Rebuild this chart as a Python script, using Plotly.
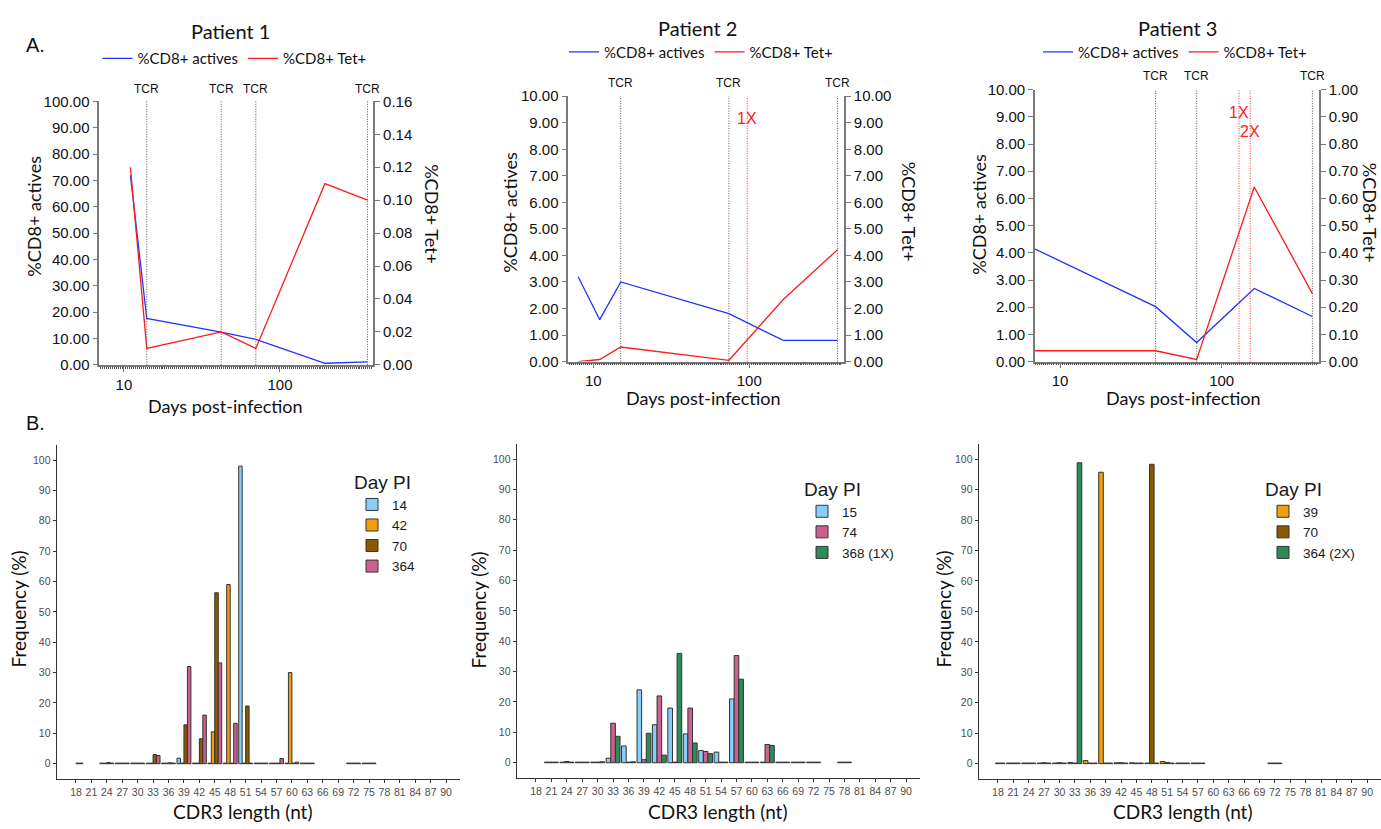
import numpy as np
import plotly.graph_objects as go

W, H = 1381, 829


def fx(p):
    return p / W


def fy(p):
    return 1 - p / H


HUM = "Lato"
ARIAL = "Liberation Sans"

# ---------------- Panel A data ----------------
legend_names = ["%CD8+ actives", "%CD8+ Tet+"]
patient_titles = ["Patient 1", "Patient 2", "Patient 3"]

p1_days = [11, 14, 42, 70, 194, 364]
p1_actives = [71.9, 17.6, 12.4, 9.7, 0.6, 1.1]
p1_tet = [0.120, 0.010, 0.020, 0.010, 0.110, 0.100]
p1_tcr_days = [14, 42, 70, 364]
p1_mark_days = []
p1_mark_labels = []

p2_days = [8, 11, 15, 74, 165, 368]
p2_actives = [3.20, 1.58, 3.00, 1.81, 0.80, 0.80]
p2_tet = [0.00, 0.08, 0.55, 0.05, 2.34, 4.22]
p2_tcr_days = [15, 74, 368]
p2_mark_days = [97]
p2_mark_labels = ["1X"]

p3_days = [7, 39, 70, 159, 364]
p3_actives = [4.14, 2.02, 0.70, 2.69, 1.66]
p3_tet = [0.040, 0.040, 0.008, 0.642, 0.250]
p3_tcr_days = [39, 70, 364]
p3_mark_days = [128, 150]
p3_mark_labels = ["1X", "2X"]

# ---------------- Panel B data ----------------
cdr3_lengths = list(range(18, 91, 3))
N = None
#            18  21   24   27   30   33   36   39    42   45    48    51   54   57   60   63   66  69  72   75   78  81 84 87 90
b1_d14 =   [N,  N,   .2,  .2,  .2,  .2,  .2,  1.8,  .2,  .2,   .2,   98,  .2,  .2,  .2,  .2,  N,  N,  .2,  .2,  N,  N, N, N, N]
b1_d42 =   [N,  N,   .2,  .2,  .2,  .2,  .2,  .2,   .2,  10.5, 59,   .2,  .2,  .2,  30,  .2,  N,  N,  .2,  .2,  N,  N, N, N, N]
b1_d70 =   [.2, N,   .4,  .2,  .2,  3.0, .3,  12.8, 8.2, 56.3, .2,   19,  .2,  .2,  .2,  .2,  N,  N,  .2,  .2,  N,  N, N, N, N]
b1_d364 =  [.2, N,   .2,  .2,  .2,  2.7, .2,  32,   16,  33.2, 13.3, .2,  .2,  1.7, 0.5, .2,  N,  N,  .2,  .2,  N,  N, N, N, N]

b2_d15 =   [N,  .2,  .2,  .2,  .2,  1.5, 5.5, 24,   12.5, 18,  9.5,  4.0, 3.5, 21,  .2,  .2,  .2, .2, .2,  N,   .2, N, N, N, N]
b2_d74 =   [N,  .2,  .4,  .2,  .2,  13,  .2,  1.0,  22,  .2,   18,   3.7, .2,  35.3, .2, 6.0, .2, .2, .2,  N,   .2, N, N, N, N]
b2_d368 =  [N,  .2,  .2,  .2,  .3,  8.7, .3,  9.7,  2.5, 36,   6.5,  3.0, .2,  27.5, .2, 5.7, .2, .2, .2,  N,   .2, N, N, N, N]

b3_d39 =   [N,  .2,  .2,  .2,  .2,  .4,  1.0, 95.7, .3,  .3,   .2,   .7,  .2,  .2,  N,   N,   N,  N,  .2,  N,   N,  N, N, N, N]
b3_d70 =   [.2, .2,  .2,  .3,  .3,  .2,  .2,  .2,   .3,  .2,   98.3, .4,  .2,  .2,  N,   N,   N,  N,  .2,  N,   N,  N, N, N, N]
b3_d364 =  [.2, .2,  .2,  .2,  .2,  98.8, .2, .2,   .2,  .2,   .2,   .2,  .2,  .2,  N,   N,   N,  N,  .2,  N,   N,  N, N, N, N]

C_BLUE = "#87CEFA"
C_ORANGE = "#F59E0B"
C_BROWN = "#8B5A00"
C_PINK = "#CD6090"
C_GREEN = "#2E8B57"

fig = go.Figure()

LINE_BLUE = "#2233ff"
LINE_RED = "#ff1a1a"
AX_GRAY = "#7a7a7a"

A_specs = [
    dict(days=p1_days, act=p1_actives, tet=p1_tet, tcr=p1_tcr_days, marks=p1_mark_days,
         mlabels=p1_mark_labels, title=patient_titles[0],
         xd=(99.3, 373.3), yd=(94.3, 363.3), xr=(0.842, 2.598),
         yl=(100, 10), yr=(0.16, 0.02),
         title_xy=(230, 22), leg_xy=(234.5, 50.7), tcr_y=81.7, mark_y=[],
         ytl=(34, 212), ytr=(432.5, 210), xt=(225.5, 405)),
    dict(days=p2_days, act=p2_actives, tet=p2_tet, tcr=p2_tcr_days, marks=p2_mark_days,
         mlabels=p2_mark_labels, title=patient_titles[1],
         xd=(568.3, 844), yd=(89, 360), xr=(0.840, 2.607),
         yl=(10, 1), yr=(10, 1),
         title_xy=(697, 19), leg_xy=(701, 44), tcr_y=75.7, mark_y=[111.5],
         ytl=(510, 208), ytr=(909, 207), xt=(703.5, 397)),
    dict(days=p3_days, act=p3_actives, tet=p3_tet, tcr=p3_tcr_days, marks=p3_mark_days,
         mlabels=p3_mark_labels, title=patient_titles[2],
         xd=(1035, 1319), yd=(82.3, 360), xr=(0.845, 2.602),
         yl=(10, 1), yr=(1.0, 0.1),
         title_xy=(1177, 19), leg_xy=(1175, 44), tcr_y=68.3, mark_y=[105.5, 125.5],
         ytl=(979, 209), ytr=(1370, 208), xt=(1183.5, 397)),
]

# dense minor tick marks along the log time axes (pure decoration)
minor_tick_days = [float(v) for v in 10 ** np.arange(0.85, 2.6, 0.0125)]

annotations = []
shapes = []
layout = {}

for i, s in enumerate(A_specs):
    xid = "x" if i == 0 else f"x{i + 1}"
    yl_n, yr_n = 2 * i + 1, 2 * i + 2
    ylid = "y" if yl_n == 1 else f"y{yl_n}"
    yrid = f"y{yr_n}"
    leg = "legend" if i == 0 else f"legend{i + 1}"

    fig.add_trace(go.Scatter(x=s["days"], y=s["act"], mode="lines", name=legend_names[0],
                             line=dict(color=LINE_BLUE, width=1.3), xaxis=xid, yaxis=ylid,
                             legend=leg))
    fig.add_trace(go.Scatter(x=s["days"], y=s["tet"], mode="lines", name=legend_names[1],
                             line=dict(color=LINE_RED, width=1.3), xaxis=xid, yaxis=yrid,
                             legend=leg))

    xkey = "xaxis" if i == 0 else f"xaxis{i + 1}"
    ylkey = "yaxis" if yl_n == 1 else f"yaxis{yl_n}"
    yrkey = f"yaxis{yr_n}"

    layout[xkey] = dict(
        type="log", domain=[fx(s["xd"][0]), fx(s["xd"][1])], range=list(s["xr"]),
        anchor=ylid, tickmode="array", tickvals=[10, 100], ticktext=["10", "100"],
        ticks="outside", ticklen=5, tickwidth=1.3, tickcolor=AX_GRAY,
        showline=True, linecolor=AX_GRAY, linewidth=1.6, showgrid=False, zeroline=False,
        tickfont=dict(family=ARIAL, size=15, color="#111"),
        minor=dict(tickmode="array", tickvals=minor_tick_days, ticks="outside", ticklen=2,
                   tickwidth=0.8, tickcolor="#555", showgrid=False),
    )
    layout[ylkey] = dict(
        domain=[fy(s["yd"][1]), fy(s["yd"][0])], range=[0, s["yl"][0]], anchor=xid,
        tickmode="linear", tick0=0, dtick=s["yl"][1], tickformat=".2f",
        ticks="outside", ticklen=5, tickwidth=1.3, tickcolor=AX_GRAY,
        showline=True, linecolor=AX_GRAY, linewidth=1.6, showgrid=False, zeroline=False,
        tickfont=dict(family=ARIAL, size=15, color="#111"),
    )
    layout[yrkey] = dict(
        overlaying=ylid, side="right", anchor=xid, range=[0, s["yr"][0]],
        tickmode="linear", tick0=0, dtick=s["yr"][1], tickformat=".2f",
        ticks="outside", ticklen=5, tickwidth=1.3, tickcolor=AX_GRAY,
        showline=True, linecolor=AX_GRAY, linewidth=1.6, showgrid=False, zeroline=False,
        tickfont=dict(family=ARIAL, size=15, color="#111"),
    )
    layout[leg] = dict(
        orientation="h", x=fx(s["leg_xy"][0]), y=fy(s["leg_xy"][1]), xanchor="center",
        yanchor="middle", font=dict(family=HUM, size=15, color="#111"),
        bgcolor="rgba(0,0,0,0)", itemwidth=30,
    )

    # TCR sampling lines and labels
    for d in s["tcr"]:
        shapes.append(dict(type="line", xref=xid, yref=f"{ylid} domain", x0=d, x1=d, y0=0, y1=1,
                           line=dict(color="#555", width=1, dash="1px,1.5px")))
        annotations.append(dict(text="TCR", xref=xid, x=float(np.log10(d)), yref="paper",
                                y=fy(s["tcr_y"]), showarrow=False, xanchor="center",
                                yanchor="middle", font=dict(family=ARIAL, size=12, color="#111")))
    for d, lab, my in zip(s["marks"], s["mlabels"], s["mark_y"]):
        shapes.append(dict(type="line", xref=xid, yref=f"{ylid} domain", x0=d, x1=d, y0=0, y1=1,
                           line=dict(color="#ff3030", width=1, dash="1px,1.5px")))
        annotations.append(dict(text=lab, xref=xid, x=float(np.log10(d)), yref="paper",
                                y=fy(my), showarrow=False, xanchor="center", yanchor="middle",
                                font=dict(family=ARIAL, size=16, color="#ff2020")))

    annotations.append(dict(text=s["title"], xref="paper", yref="paper", x=fx(s["title_xy"][0]),
                            y=fy(s["title_xy"][1]), showarrow=False, xanchor="center",
                            yanchor="middle", font=dict(family=HUM, size=20, color="#111")))
    annotations.append(dict(text="%CD8+ actives", xref="paper", yref="paper", x=fx(s["ytl"][0]),
                            y=fy(s["ytl"][1]), showarrow=False, xanchor="center",
                            yanchor="middle", textangle=-90,
                            font=dict(family=HUM, size=18, color="#111")))
    annotations.append(dict(text="%CD8+ Tet+", xref="paper", yref="paper", x=fx(s["ytr"][0]),
                            y=fy(s["ytr"][1]), showarrow=False, xanchor="center",
                            yanchor="middle", textangle=90,
                            font=dict(family=HUM, size=18, color="#111")))
    annotations.append(dict(text="Days post-infection", xref="paper", yref="paper",
                            x=fx(s["xt"][0]), y=fy(s["xt"][1]), showarrow=False,
                            xanchor="center", yanchor="middle",
                            font=dict(family=HUM, size=18, color="#111")))

# ---------------- Panel B ----------------
B_specs = [
    dict(series=[("14", b1_d14, C_BLUE), ("42", b1_d42, C_ORANGE), ("70", b1_d70, C_BROWN),
                 ("364", b1_d364, C_PINK)],
         xd=(56.7, 460), yd=(445, 786), leg=(352, 465), yt=(18, 613), xt=(242, 819)),
    dict(series=[("15", b2_d15, C_BLUE), ("74", b2_d74, C_PINK), ("368 (1X)", b2_d368, C_GREEN)],
         xd=(516.7, 920), yd=(444, 785), leg=(802, 472), yt=(478, 613), xt=(717, 819)),
    dict(series=[("39", b3_d39, C_ORANGE), ("70", b3_d70, C_BROWN), ("364 (2X)", b3_d364, C_GREEN)],
         xd=(978.7, 1381), yd=(444, 786), leg=(1263, 472), yt=(943, 613), xt=(1182, 819)),
]

for j, s in enumerate(B_specs):
    xn = 4 + j
    yn = 7 + j
    xid, yid = f"x{xn}", f"y{yn}"
    leg = f"legend{4 + j}"
    for name, vals, col in s["series"]:
        fig.add_trace(go.Bar(x=cdr3_lengths, y=vals, name=name, xaxis=xid, yaxis=yid, legend=leg,
                             marker=dict(color=col, line=dict(color="#333333", width=1))))
    layout[f"xaxis{xn}"] = dict(
        domain=[fx(s["xd"][0]), fx(s["xd"][1])], range=[14.25, 92.7], anchor=yid,
        tickmode="array", tickvals=cdr3_lengths, ticks="outside", ticklen=3, tickwidth=1,
        tickcolor="#333", showline=True, linecolor="#333", linewidth=1.1, showgrid=False,
        zeroline=False, tickfont=dict(family=ARIAL, size=10.5, color="#4d4d4d"),
    )
    layout[f"yaxis{yn}"] = dict(
        domain=[fy(s["yd"][1]), fy(s["yd"][0])], range=[-5, 105], anchor=xid,
        tickmode="linear", tick0=0, dtick=10, ticks="outside", ticklen=3, tickwidth=1,
        tickcolor="#333", showline=True, linecolor="#333", linewidth=1.1, showgrid=False,
        zeroline=False, tickfont=dict(family=ARIAL, size=10.5, color="#4d4d4d"),
    )
    layout[leg] = dict(
        title=dict(text="Day PI", font=dict(family=ARIAL, size=19, color="#1a1a1a")),
        x=fx(s["leg"][0]), y=fy(s["leg"][1]), xanchor="left", yanchor="top",
        font=dict(family=ARIAL, size=13.5, color="#1a1a1a"), bgcolor="rgba(0,0,0,0)",
        orientation="v", tracegroupgap=0,
    )
    annotations.append(dict(text="Frequency (%)", xref="paper", yref="paper", x=fx(s["yt"][0]),
                            y=fy(s["yt"][1]), showarrow=False, xanchor="center",
                            yanchor="middle", textangle=-90,
                            font=dict(family=HUM, size=19, color="#111")))
    annotations.append(dict(text="CDR3 length (nt)", xref="paper", yref="paper",
                            x=fx(s["xt"][0]), y=fy(s["xt"][1]), showarrow=False,
                            xanchor="center", yanchor="middle",
                            font=dict(family=HUM, size=19, color="#111")))

annotations.append(dict(text="A.", xref="paper", yref="paper", x=fx(35), y=fy(37),
                        showarrow=False, xanchor="center", yanchor="middle",
                        font=dict(family=ARIAL, size=20, color="#111")))
annotations.append(dict(text="B.", xref="paper", yref="paper", x=fx(35), y=fy(423),
                        showarrow=False, xanchor="center", yanchor="middle",
                        font=dict(family=ARIAL, size=20, color="#111")))

fig.update_layout(
    width=W, height=H, autosize=False,
    margin=dict(l=0, r=0, t=0, b=0, pad=0),
    paper_bgcolor="white", plot_bgcolor="white",
    barmode="group", bargap=0.1, bargroupgap=0,
    showlegend=True,
    annotations=annotations, shapes=shapes,
    **layout,
)

fig.write_html("out.html", config={"displayModeBar": False},
               post_script="document.body.style.margin='0';document.body.style.overflow='hidden';")
